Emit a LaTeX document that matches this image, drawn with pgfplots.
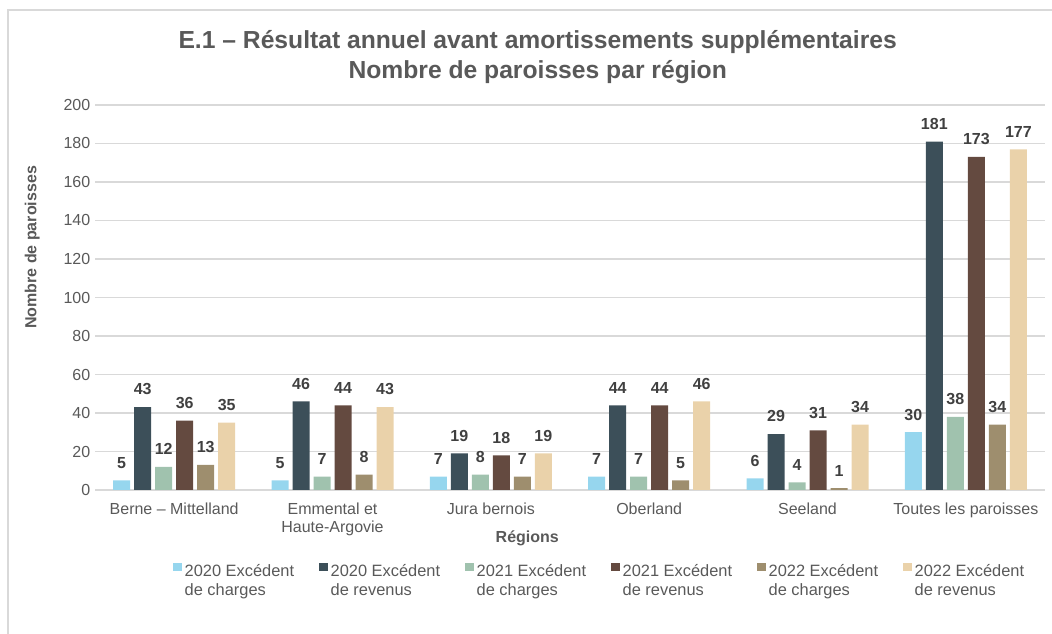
\documentclass[border=0pt]{standalone}
\usepackage{pgfplots}
\pgfplotsset{compat=1.18}
\usepackage{fontspec}
\setmainfont{Liberation Sans}

\definecolor{cA}{RGB}{150,214,238}
\definecolor{cB}{RGB}{60,79,89}
\definecolor{cC}{RGB}{160,194,174}
\definecolor{cD}{RGB}{100,74,64}
\definecolor{cE}{RGB}{158,142,110}
\definecolor{cF}{RGB}{234,210,170}
\definecolor{txt}{RGB}{89,89,89}
\definecolor{lbl}{RGB}{64,64,64}
\definecolor{gridc}{RGB}{217,217,217}

\newcommand{\legtwo}[2]{\begin{tabular}[t]{@{}p{97pt}@{}}#1\\[1.5pt]#2\end{tabular}}

\begin{document}
\begin{tikzpicture}
\useasboundingbox (0,0) rectangle (789pt,475.5pt);
\draw[gray!30, line width=1.2pt] (6pt,-20pt) rectangle (800pt,468pt);
\begin{axis}[
    at={(71.25pt,108pt)}, anchor=south west,
    scale only axis, width=712.5pt, height=288.75pt,
    ybar=3pt, bar width=12.75pt,
    xmin=-0.5, xmax=5.5, ymin=0, ymax=200,
    xtick=data,
    xticklabels={Berne – Mittelland, {Emmental et\\Haute-Argovie}, Jura bernois, Oberland, Seeland, Toutes les paroisses},
    x tick label style={align=center, font=\fontsize{12}{13.5}\selectfont, text=txt, yshift=-6pt},
    ytick={0,20,...,200},
    y tick label style={font=\fontsize{12}{14}\selectfont, text=txt},
    /pgf/number format/assume math mode=true,
    major tick length=0pt,
    axis x line*=bottom, axis y line*=left,
    x axis line style={draw=gridc, line width=0.8pt},
    y axis line style={draw=none},
    ymajorgrids, grid style={draw=gridc, line width=0.8pt},
    title={E.1 – Résultat annuel avant amortissements supplémentaires\\Nombre de paroisses par région},
    title style={at={(0.466,1.035)}, anchor=south, align=center, inner sep=0pt,
        font=\fontsize{18.5}{22.5}\selectfont\bfseries, text=txt},
    xlabel={Régions},
    xlabel style={at={(0.455,-0.125)}, anchor=center, font=\fontsize{12}{14}\selectfont\bfseries, text=txt},
    ylabel={Nombre de paroisses},
    ylabel style={at={(-0.066,0.63)}, anchor=center, font=\fontsize{12}{14}\selectfont\bfseries, text=txt},
    nodes near coords,
    every node near coord/.append style={font=\fontsize{12}{13}\selectfont\bfseries, text=lbl, yshift=5.5pt},
    legend columns=6,
    legend style={at={(0.078,-0.18)}, anchor=north west, draw=none, fill=none,
        font=\fontsize{12.3}{12}\selectfont, text=txt,
        /tikz/every even column/.append style={column sep=2pt}},
    legend image code/.code={\fill[#1] (0pt,0.5pt) rectangle (6.5pt,7pt);},
    legend cell align=left,
]
\addplot[fill=cA, draw=none] coordinates {(0,5) (1,5) (2,7) (3,7) (4,6) (5,30)};
\addplot[fill=cB, draw=none] coordinates {(0,43) (1,46) (2,19) (3,44) (4,29) (5,181)};
\addplot[fill=cC, draw=none] coordinates {(0,12) (1,7) (2,8) (3,7) (4,4) (5,38)};
\addplot[fill=cD, draw=none] coordinates {(0,36) (1,44) (2,18) (3,44) (4,31) (5,173)};
\addplot[fill=cE, draw=none] coordinates {(0,13) (1,8) (2,7) (3,5) (4,1) (5,34)};
\addplot[fill=cF, draw=none] coordinates {(0,35) (1,43) (2,19) (3,46) (4,34) (5,177)};
\legend{\legtwo{2020 Excédent}{de charges}, \legtwo{2020 Excédent}{de revenus},
        \legtwo{2021 Excédent}{de charges}, \legtwo{2021 Excédent}{de revenus},
        \legtwo{2022 Excédent}{de charges}, \legtwo{2022 Excédent}{de revenus}}
\end{axis}
\end{tikzpicture}
\end{document}
